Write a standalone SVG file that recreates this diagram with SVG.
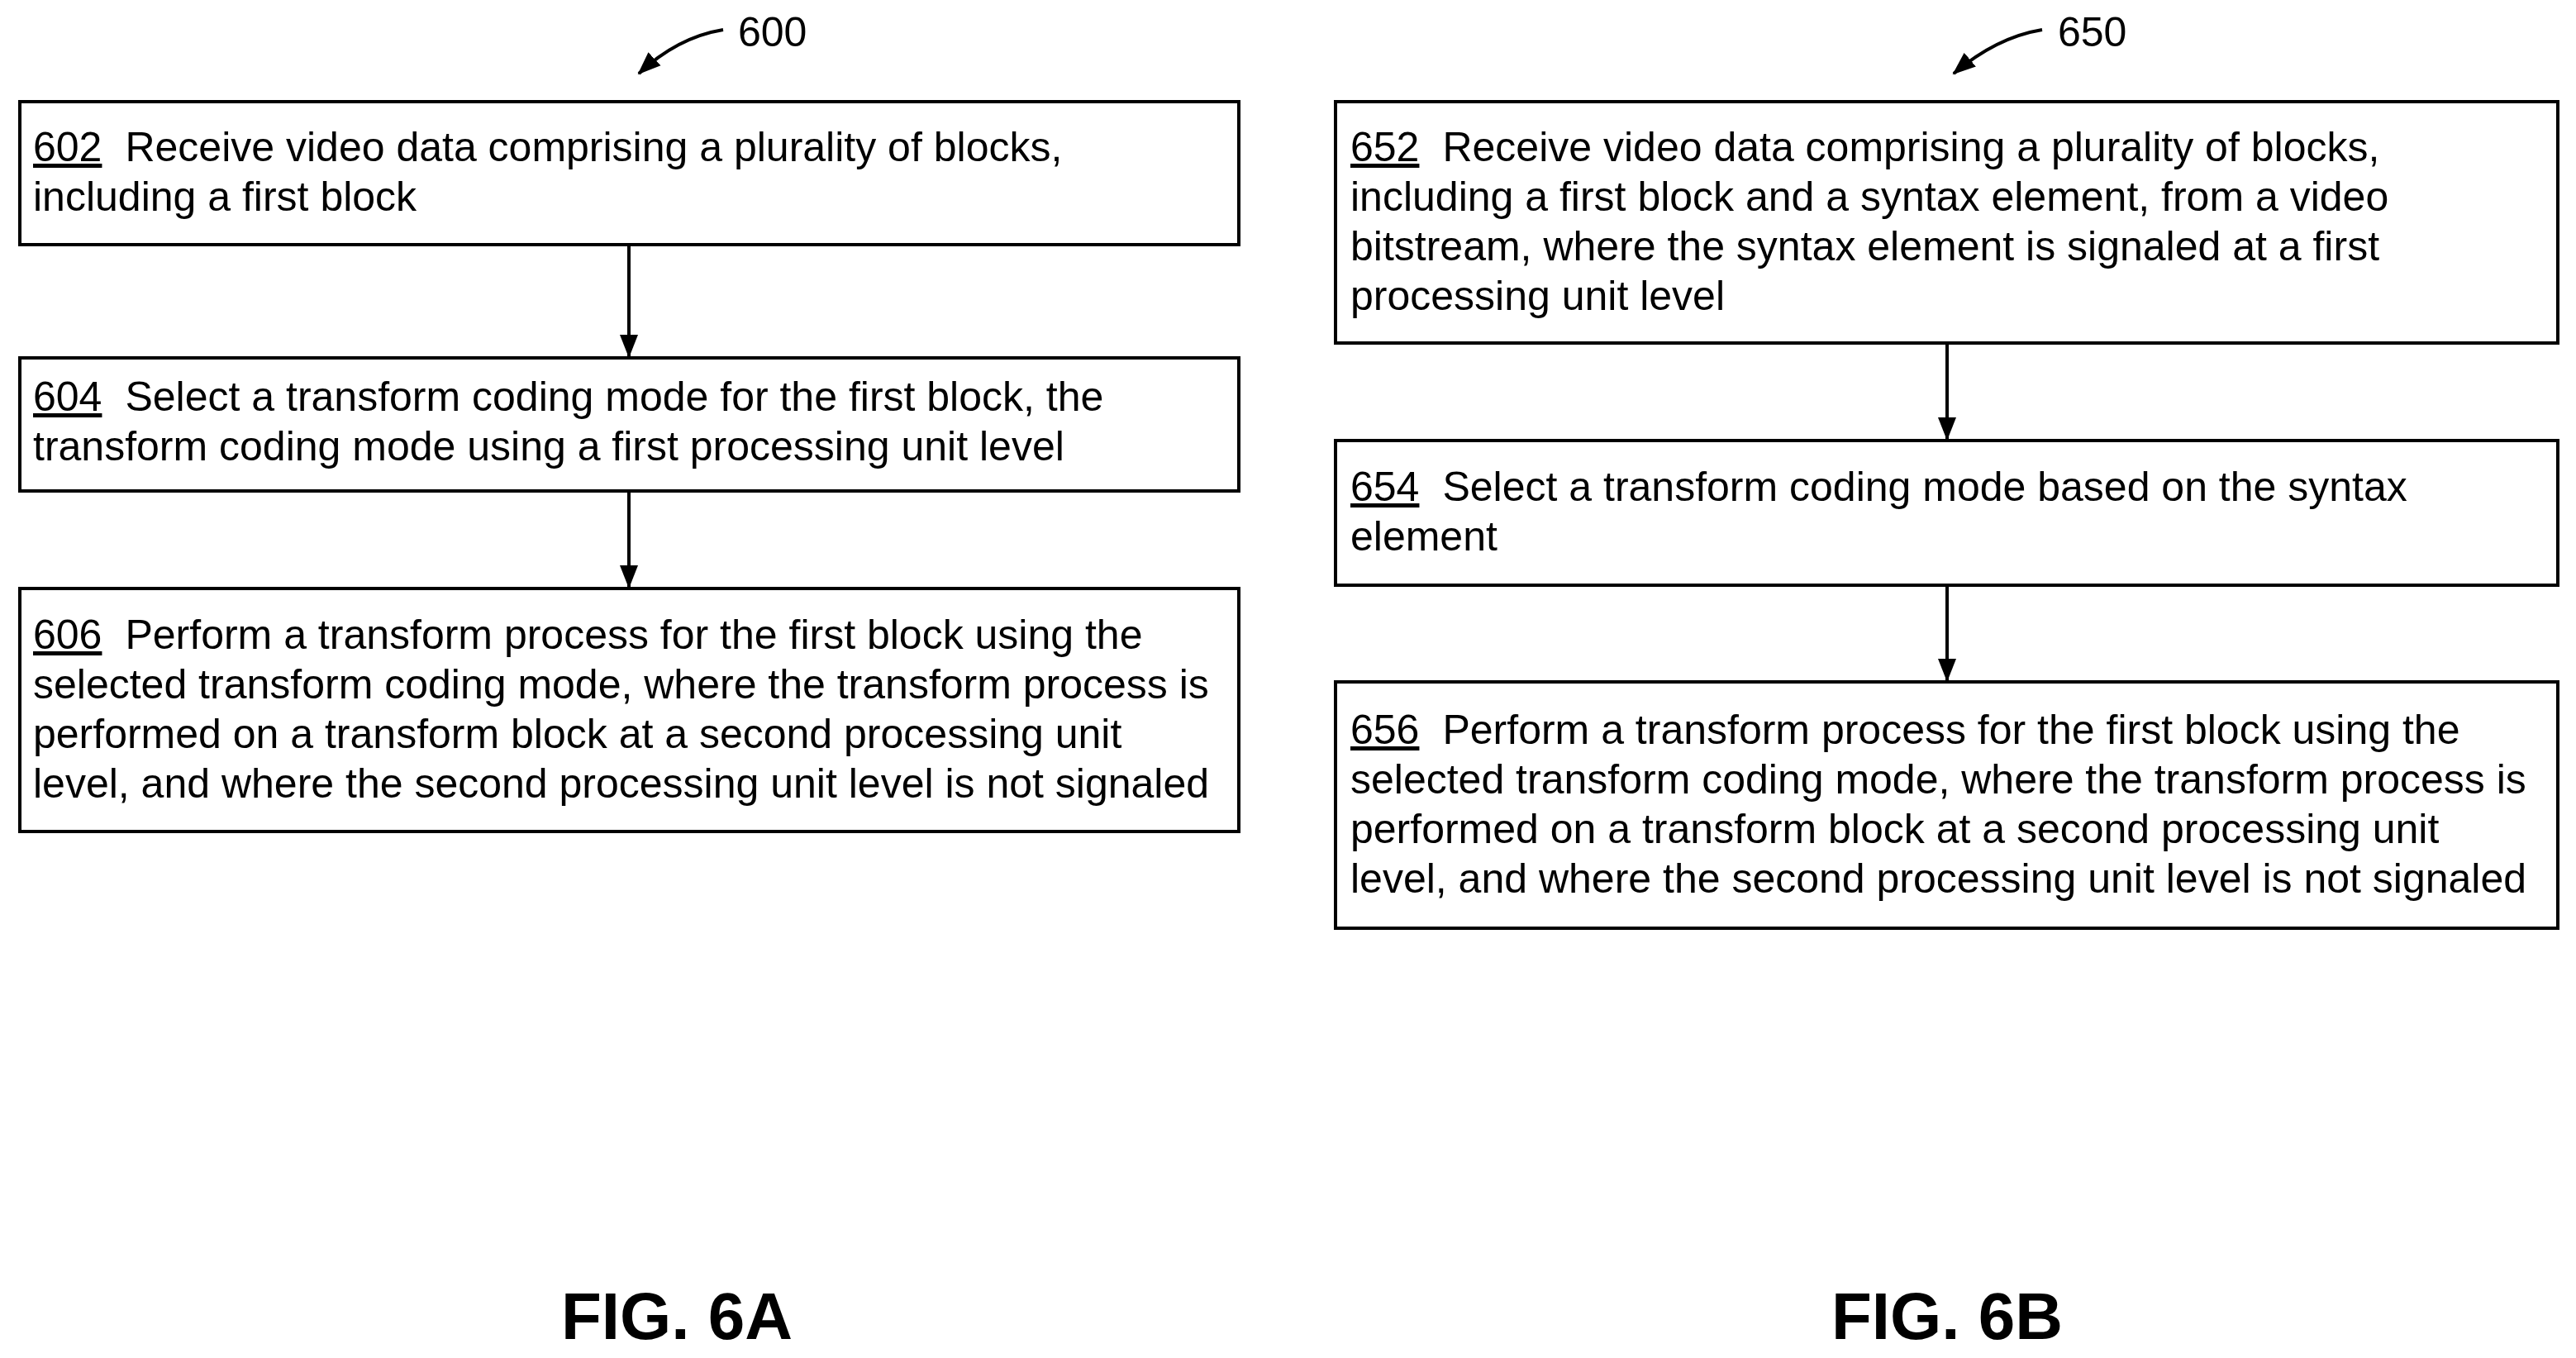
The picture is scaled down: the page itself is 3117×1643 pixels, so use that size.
<svg xmlns="http://www.w3.org/2000/svg" width="3117" height="1643" viewBox="0 0 3117 1643">
<style>
rect.b{fill:#fff;stroke:#000;stroke-width:4}
text{font-family:"Liberation Sans",Arial,sans-serif;font-size:50px;fill:#000}
.u{text-decoration:underline}
.fig{font-size:80px;font-weight:bold}
.lbl{font-size:50px}
line,path{stroke:#000;stroke-width:4;fill:none}
</style>
<defs>
<marker id="h" markerWidth="28" markerHeight="28" refX="26" refY="14" orient="auto" markerUnits="userSpaceOnUse"><path d="M0,3 L28,14 L0,25 z" style="fill:#000;stroke:none"/></marker></defs>
<g id="connectors">
<line x1="761" y1="296" x2="761" y2="431" marker-end="url(#h)"/>
<line x1="761" y1="594" x2="761" y2="710" marker-end="url(#h)"/>
<line x1="2356" y1="415" x2="2356" y2="531" marker-end="url(#h)"/>
<line x1="2356" y1="708" x2="2356" y2="823" marker-end="url(#h)"/>
<path d="M875,36 Q820,45 773,89" marker-end="url(#h)"/>
<path d="M2471,36 Q2416,45 2364,89" marker-end="url(#h)"/>
</g>
<g id="l600"><text class="lbl" x="893" y="56">600</text></g>
<g id="l650"><text class="lbl" x="2490" y="56">650</text></g>
<g id="n602"><rect class="b" x="24" y="123" width="1475" height="173"/>
<text x="40" y="195"><tspan class="u">602</tspan><tspan dx="28">Receive video data comprising a plurality of blocks,</tspan></text>
<text x="40" y="255">including a first block</text></g>
<g id="n604"><rect class="b" x="24" y="433" width="1475" height="161"/>
<text x="40" y="497"><tspan class="u">604</tspan><tspan dx="28">Select a transform coding mode for the first block, the</tspan></text>
<text x="40" y="557">transform coding mode using a first processing unit level</text></g>
<g id="n606"><rect class="b" x="24" y="712" width="1475" height="294"/>
<text x="40" y="785"><tspan class="u">606</tspan><tspan dx="28">Perform a transform process for the first block using the</tspan></text>
<text x="40" y="845">selected transform coding mode, where the transform process is</text>
<text x="40" y="905">performed on a transform block at a second processing unit</text>
<text x="40" y="965">level, and where the second processing unit level is not signaled</text></g>
<g id="n652"><rect class="b" x="1616" y="123" width="1479" height="292"/>
<text x="1634" y="195"><tspan class="u">652</tspan><tspan dx="28">Receive video data comprising a plurality of blocks,</tspan></text>
<text x="1634" y="255">including a first block and a syntax element, from a video</text>
<text x="1634" y="315">bitstream, where the syntax element is signaled at a first</text>
<text x="1634" y="375">processing unit level</text></g>
<g id="n654"><rect class="b" x="1616" y="533" width="1479" height="175"/>
<text x="1634" y="606"><tspan class="u">654</tspan><tspan dx="28">Select a transform coding mode based on the syntax</tspan></text>
<text x="1634" y="666">element</text></g>
<g id="n656"><rect class="b" x="1616" y="825" width="1479" height="298"/>
<text x="1634" y="900"><tspan class="u">656</tspan><tspan dx="28">Perform a transform process for the first block using the</tspan></text>
<text x="1634" y="960">selected transform coding mode, where the transform process is</text>
<text x="1634" y="1020">performed on a transform block at a second processing unit</text>
<text x="1634" y="1080">level, and where the second processing unit level is not signaled</text></g>
<g id="fig6a"><text class="fig" x="819" y="1620" text-anchor="middle">FIG. 6A</text></g>
<g id="fig6b"><text class="fig" x="2356" y="1620" text-anchor="middle">FIG. 6B</text></g>
</svg>
